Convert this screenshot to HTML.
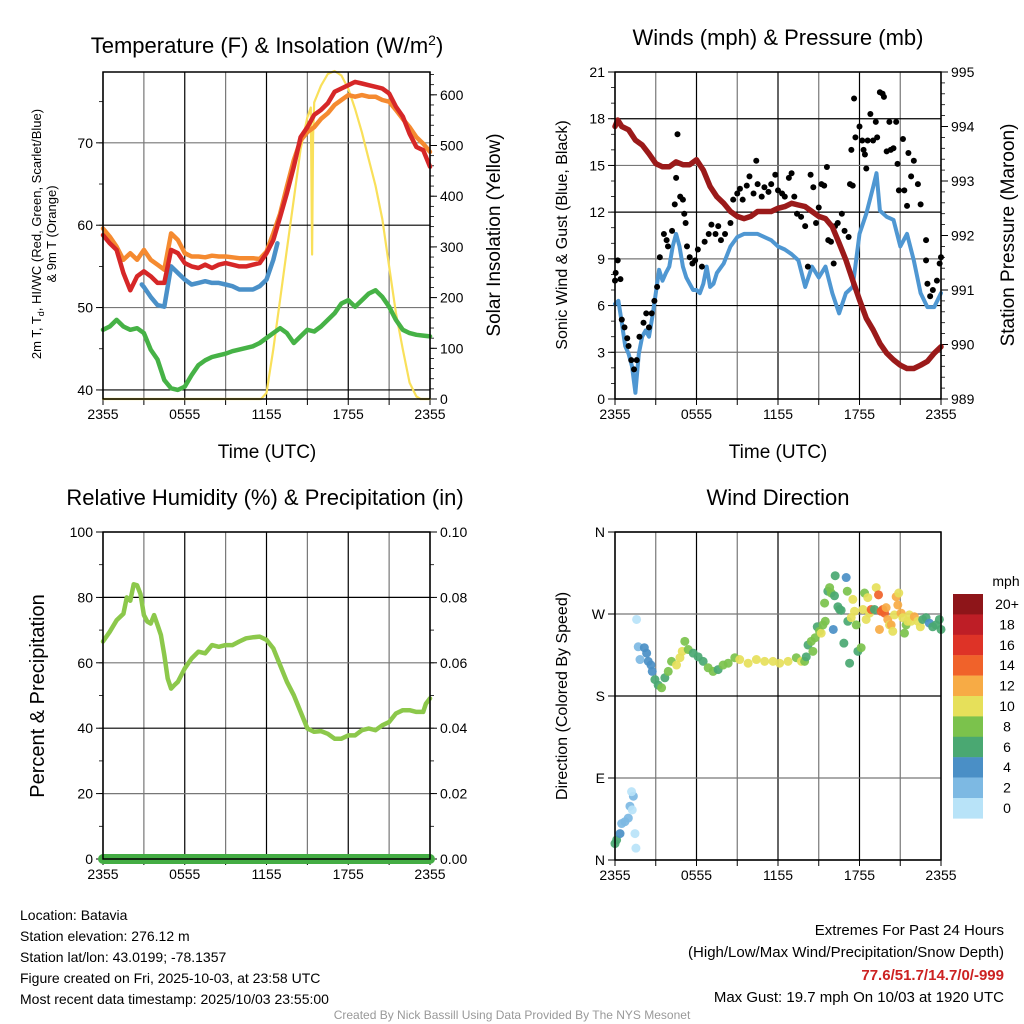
<!DOCTYPE html>
<html><head><meta charset="utf-8"><style>
html,body{margin:0;padding:0;background:#fff;}
svg{display:block;font-family:"Liberation Sans",Arial,sans-serif;}
</style></head><body>
<svg id="chart" width="1024" height="1024" viewBox="0 0 1024 1024" xmlns="http://www.w3.org/2000/svg">
<text x="267" y="53" font-size="22" text-anchor="middle">Temperature (F) &amp; Insolation (W/m<tspan dy="-8" font-size="14">2</tspan><tspan dy="8">)</tspan></text>
<text x="778" y="45" font-size="22" text-anchor="middle">Winds (mph) &amp; Pressure (mb)</text>
<text x="265" y="505" font-size="22" text-anchor="middle">Relative Humidity (%) &amp; Precipitation (in)</text>
<text x="778" y="505" font-size="22" text-anchor="middle">Wind Direction</text>

<text transform="translate(41,234) rotate(-90)" font-size="13" text-anchor="middle">2m T, T<tspan dy="3" font-size="9">d</tspan><tspan dy="-3">, HI/WC (Red, Green, Scarlet/Blue)</tspan></text>
<text transform="translate(56,234) rotate(-90)" font-size="13" text-anchor="middle">&amp; 9m T (Orange)</text>
<text transform="translate(500,235) rotate(-90)" font-size="19" text-anchor="middle">Solar Insolation (Yellow)</text>
<text transform="translate(567,235) rotate(-90)" font-size="16" text-anchor="middle">Sonic Wind &amp; Gust (Blue, Black)</text>
<text transform="translate(1014,235) rotate(-90)" font-size="19" text-anchor="middle">Station Pressure (Maroon)</text>
<text transform="translate(44,696) rotate(-90)" font-size="20" text-anchor="middle">Percent &amp; Precipitation</text>
<text transform="translate(567,696) rotate(-90)" font-size="16" text-anchor="middle">Direction (Colored By Speed)</text>
<text x="267" y="458" font-size="19" text-anchor="middle">Time (UTC)</text>
<text x="778" y="458" font-size="19" text-anchor="middle">Time (UTC)</text>

<g font-size="14">
<text x="20" y="920">Location: Batavia</text>
<text x="20" y="941">Station elevation: 276.12 m</text>
<text x="20" y="962">Station lat/lon: 43.0199; -78.1357</text>
<text x="20" y="983">Figure created on Fri, 2025-10-03, at 23:58 UTC</text>
<text x="20" y="1004">Most recent data timestamp: 2025/10/03 23:55:00</text>
</g>
<g font-size="15" text-anchor="end">
<text x="1004" y="935">Extremes For Past 24 Hours</text>
<text x="1004" y="957">(High/Low/Max Wind/Precipitation/Snow Depth)</text>
<text x="1004" y="980" fill="#cc2222" font-weight="bold">77.6/51.7/14.7/0/-999</text>
<text x="1004" y="1002">Max Gust: 19.7 mph On 10/03 at 1920 UTC</text>
</g>
<text x="512" y="1019" font-size="12" fill="#999" text-anchor="middle">Created By Nick Bassill Using Data Provided By The NYS Mesonet</text>
</svg>
<script>
// ---------- DATA ----------
const xTickLabels = ["2355","0555","1155","1755","2355"];
const tempTimes = [0,0.5,1,1.5,2,2.5,3,3.5,4,4.5,5,5.5,6,6.5,7,7.5,8,8.5,9,9.5,10,10.5,11,11.5,12,12.5,13,13.5,14,14.5,15,15.5,16,16.5,17,17.5,18,18.5,19,19.5,20,20.5,21,21.5,22,22.5,23,23.5,24];
const temp2m = [58.8,57.8,57,54.2,52.1,53.8,54.4,53.8,53,53,57,56.6,55.4,55,54.8,55.2,54.8,55.2,55.4,55.2,55,55,55.2,55.4,56.6,58.2,61,63.9,67.1,70.7,71.9,73.4,74,74.8,76.2,76.6,77,77.4,77.2,77,76.8,76.6,76,74.4,73.2,71.1,69.5,69.1,67.1];
const temp9m = [59.6,58.6,57.4,55.8,56.6,55.8,57,55.8,55.2,54.6,59,58.2,56.6,56.2,56.2,56.1,56.3,56.2,56.2,56.1,56,56,56,55.9,56.8,59,61.4,64.7,67.9,70.3,71.3,71.9,72.9,73.6,74.6,75.2,75.8,75.6,75.8,75.6,75.6,75.2,75,74,72.9,71.9,70.7,69.9,68.9];
const dewpoint = [47.3,47.7,48.5,47.7,47.3,47.5,46.9,44.9,43.7,41.2,40.2,40,40.4,41.8,43,43.6,44,44.2,44.4,44.7,44.9,45.1,45.3,45.7,46.3,46.9,47.5,46.9,45.7,46.5,47.3,47.1,47.7,48.5,49.3,50.5,50.9,50.1,50.9,51.7,52.1,51.3,50.1,48.5,47.3,46.9,46.7,46.6,46.5];
const hiwcTimes = [2.85,3,3.5,4,4.5,5,5.5,6,6.5,7,7.5,8,8.5,9,9.5,10,10.5,11,11.5,12,12.5,12.8];
const hiwc = [52.8,52.5,51.3,50.3,50.1,55,54.2,53.4,52.8,53,53.2,53,53,52.8,52.6,52.2,52.2,52.2,52.6,53.4,55.8,57.8];
const solarTimes = [0,11.6,12,12.5,13,13.5,14,14.5,15,15.25,15.35,15.42,15.5,16,16.5,17,17.5,18,18.5,19,19.5,20,20.5,21,21.5,22,22.5,23,23.3,24];
const solar = [0,0,12,98,196,295,394,493,556,575,285,520,585,618,641,647,638,612,572,526,473,421,355,262,170,98,32,5,0,0];

const windTimes = [0,0.25,0.5,0.75,1,1.25,1.5,1.75,2,2.25,2.5,2.75,3,3.25,3.5,3.75,4,4.25,4.5,4.75,5,5.25,5.5,5.75,6,6.25,6.5,6.75,7,7.25,7.5,8,8.5,9,9.5,10,10.5,11,11.5,12,12.5,13,13.5,14,14.5,15,15.5,16,16.5,17,17.5,18,18.5,19,19.25,19.5,20,20.5,21,21.5,22,22.5,23,23.5,24];
const windSpeed = [6.1,6.3,4.9,3.4,2.9,2.1,0.4,2.9,4.0,4.4,4.0,5.3,6.8,8.3,7.6,8.1,8.5,9.8,10.6,9.8,8.5,7.8,7.4,7.0,7.0,6.8,7.4,8.5,7.2,7.4,8.1,8.7,9.8,10.4,10.6,10.6,10.6,10.4,10.2,9.8,9.6,9.3,8.9,7.2,8.5,7.8,8.5,6.8,5.5,6.8,7.2,10.6,11.9,13.6,14.5,12.1,11.7,11.5,9.8,10.6,8.9,6.8,5.9,5.9,6.8];
const gustTimes = [0,0.05,0.2,0.4,0.5,0.7,0.9,1.0,1.2,1.4,1.6,1.8,2.1,2.3,2.5,2.7,2.9,3.1,3.3,3.6,3.8,3.9,4.2,4.4,4.5,4.6,4.8,5.0,5.1,5.2,5.3,5.5,5.7,5.9,6.1,6.4,6.6,6.9,7.1,7.4,7.6,7.8,8.1,8.5,8.7,9.0,9.2,9.4,9.7,9.9,10.2,10.4,10.5,10.8,11.0,11.3,11.5,11.8,12.0,12.3,12.5,12.8,13.0,13.2,13.4,13.7,14.0,14.2,14.4,14.6,14.8,15.0,15.2,15.4,15.6,15.7,15.9,16.1,16.2,16.4,16.7,16.9,17.2,17.3,17.5,17.4,17.6,17.7,18.0,18.2,18.3,18.4,18.5,18.6,18.8,19.0,19.2,19.3,19.5,19.7,19.8,20.0,20.2,20.3,20.5,20.7,20.8,20.9,21.2,21.3,21.5,21.6,21.8,22.0,22.3,22.5,22.9,22.9,23.0,23.2,23.4,23.7,23.9,24.0];
const gustSpeed = [7.6,8.1,8.9,7.7,5.1,4.6,3.9,3.4,2.5,1.9,2.5,4.0,4.9,5.5,4.6,5.5,6.3,7.2,9.1,10.6,10.2,9.8,10.8,12.5,14.2,17.0,13.0,12.8,11.9,11.3,9.8,9.1,8.7,8.9,9.6,8.5,10.1,10.6,11.2,10.6,11.1,10.2,10.6,11.3,12.8,13.2,13.5,12.8,13.7,14.3,13.2,15.3,13.8,13.0,13.6,13.3,13.8,14.4,13.4,13.2,13.0,14.2,14.5,13.0,11.9,11.7,11.1,8.5,14.4,13.6,11.3,12.3,13.8,13.7,14.9,10.2,10.1,8.7,11.1,11.3,11.9,10.8,10.4,13.8,13.7,16.0,19.3,16.8,17.5,16.6,16.0,15.7,14.8,16.6,18.3,16.6,17.8,16.8,19.7,19.6,19.4,15.9,17.8,16.0,16.1,17.8,15.1,13.4,16.7,13.4,12.4,15.8,14.3,15.3,13.8,12.5,10.2,8.9,7.4,6.6,7.0,7.6,8.7,9.1];
const pressTimes = [0,0.2,0.5,1,1.5,2,2.5,3,3.5,4,4.5,5,5.5,6,6.5,7,7.5,8,8.5,9,9.5,10,10.5,11,11.5,12,12.5,13,13.5,14,14.5,15,15.5,16,16.5,17,17.5,18,18.5,19,19.5,20,20.5,21,21.5,22,22.5,23,23.5,24];
const pressure = [994.0,994.12,994.0,993.94,993.75,993.66,993.5,993.32,993.26,993.26,993.35,993.3,993.3,993.39,993.2,992.9,992.71,992.59,992.44,992.35,992.31,992.35,992.44,992.44,992.44,992.5,992.53,992.59,992.56,992.53,992.44,992.35,992.31,992.16,991.86,991.55,991.18,990.82,990.48,990.27,990.02,989.84,989.72,989.62,989.56,989.56,989.62,989.69,989.84,989.96];

const rhTimes = [0,0.5,1,1.5,1.75,2,2.25,2.5,2.75,3,3.25,3.5,3.75,4,4.25,4.5,4.75,5,5.25,5.5,6,6.5,7,7.5,8,8.5,9,9.5,10,10.5,11,11.5,12,12.5,13,13.5,14,14.5,15,15.5,16,16.5,17,17.5,18,18.5,19,19.5,20,20.5,21,21.5,22,22.5,23,23.5,23.7,24];
const rh = [66.5,69.5,73,75,80,79,84,83.7,81,74.6,72.6,72,74.6,71.6,68.5,62.4,55.2,52.1,53.2,54.2,58.3,61.3,63.4,62.9,65.4,64.9,65.4,65.4,66.5,67.5,67.8,68,67,64.4,59.3,54.2,50.1,45,39.9,38.9,39.1,38.3,36.8,36.8,37.8,37.8,39.4,39.9,39.4,40.9,41.9,44.5,45.5,45.5,45,45,47.5,49.1];
const precipTimes = [0,24];
const precip = [0,0];

const dirTimes = [0,0.12,0.37,0.49,0.73,0.98,1.10,1.27,1.35,1.22,1.47,1.54,1.59,1.71,1.84,2.16,2.33,2.45,2.65,2.74,2.94,3.18,3.43,3.67,3.92,4.16,4.53,4.78,4.95,5.14,5.39,5.76,6.12,6.49,6.86,7.22,7.59,7.96,8.33,8.82,9.18,9.80,10.41,11.02,11.63,12.12,12.74,13.35,13.72,13.96,14.08,14.21,14.45,14.57,14.74,14.89,15.06,15.18,15.31,15.43,15.48,15.67,15.80,15.92,16.16,16.21,16.41,16.53,16.65,16.07,16.85,17.02,17.10,17.14,17.27,17.39,17.51,17.63,17.76,17.88,18.12,18.25,18.37,18.49,18.61,18.74,18.86,19.10,19.23,19.40,19.47,19.59,19.72,19.84,19.96,20.08,20.21,20.33,20.45,20.57,20.70,20.82,20.89,21.06,21.19,21.31,21.43,21.55,21.67,21.80,22.04,22.29,22.48,22.65,22.90,23.14,23.39,23.63,23.88,24.0];
const dirDeg = [18,22,29,40,42,46,59,55,70,75,29,13,264,234,220,233,227,218,214,207,198,192,189,200,207,218,214,222,229,240,231,227,223,218,211,207,209,214,216,222,220,216,220,218,218,216,218,222,218,218,223,236,240,229,244,256,251,249,258,282,262,295,299,293,290,312,278,275,274,253,238,310,295,262,216,266,286,273,258,229,233,275,293,264,288,271,275,275,299,291,253,273,275,271,277,264,258,258,251,269,289,280,293,271,266,249,258,262,269,262,267,262,256,264,266,260,256,258,264,253];
const dirSpeed = [7,7,5,3,3,3,3,1,3,1,1,1,1,3,3,5,5,5,5,5,7,7,9,7,9,9,11,11,11,9,9,7,7,7,9,9,7,9,9,9,11,11,11,11,11,11,11,9,11,9,7,7,9,9,9,7,9,11,9,9,9,7,9,9,7,7,7,7,7,5,7,5,9,7,7,11,11,11,9,7,9,11,9,11,11,11,15,7,11,15,13,15,15,15,13,13,11,13,11,11,13,13,11,13,11,9,9,11,11,11,13,11,11,7,7,5,7,7,7,7];
const speedLabels = ["20+","18","16","14","12","10","8","6","4","2","0"];
const speedColors = ["#b8e3f8","#7db9e3","#4a8fc6","#4aa872","#7bc24c","#e6e05a","#f7ab45","#f0622a","#de3327","#be1e26","#8e1519"];

// ---------- HELPERS ----------
const svg = document.getElementById('chart');
const NS = 'http://www.w3.org/2000/svg';
function mk(tag, attrs, parent){
  const e = document.createElementNS(NS, tag);
  for (const k in attrs) e.setAttribute(k, attrs[k]);
  (parent||svg).appendChild(e);
  return e;
}
function lin(d0,d1,r0,r1){ return v => r0 + (v-d0)/(d1-d0)*(r1-r0); }

function panel(x0,x1,y0,y1){
  return {x0,x1,y0,y1,x: lin(0,24,x0,x1)};
}
function drawFrame(p, name){
  const g = mk('g',{});
  
  
  for (let h=0; h<=24; h+=3){
    const X = p.x(h);
    const l = mk('line',{x1:X,x2:X,y1:p.y0,y2:p.y1,stroke:(h%6===0)?'#000':'#777','stroke-width':1.2},g);
    
    
    const t = mk('line',{x1:X,x2:X,y1:p.y1,y2:p.y1+6,stroke:'#000','stroke-width':1},g);
    
    
  }
  xTickLabels.forEach((s,i)=>{
    const tx = mk('text',{x:p.x(i*6),y:p.y1+20,'font-size':14,'text-anchor':'middle'},g);
    tx.textContent = s;
    
    
  });
  return g;
}
function yAxis(p, name, side, d0, d1, majors, minorStep, fmt, gridOn){
  const y = lin(d0,d1,p.y1,p.y0);
  const g = mk('g',{});
  
  
  const ax = side==='left'?p.x0:p.x1, dir = side==='left'?-1:1;
  if (minorStep){
    for (let v=Math.ceil(d0/minorStep)*minorStep; v<=d1+1e-9; v+=minorStep){
      const Y=y(v);
      const m = mk('line',{x1:ax,x2:ax+dir*4,y1:Y,y2:Y,stroke:'#000','stroke-width':0.8},g);
      
      
    }
  }
  majors.forEach((v,i)=>{
    const Y=y(v);
    if (gridOn){
      const gl = mk('line',{x1:p.x0,x2:p.x1,y1:Y,y2:Y,stroke:(i%2?'#777':'#000'),'stroke-width':1.2},g);
      
      
    }
    const t = mk('line',{x1:ax,x2:ax+dir*7,y1:Y,y2:Y,stroke:'#000','stroke-width':1},g);
    
    
    const tx = mk('text',{x:ax+dir*10,y:Y+5,'font-size':14,'text-anchor':side==='left'?'end':'start'},g);
    tx.textContent = fmt(v);
    
    
  });
  return y;
}
function border(p,name){
  const r = mk('rect',{x:p.x0,y:p.y0,width:p.x1-p.x0,height:p.y1-p.y0,fill:'none',stroke:'#000','stroke-width':1.5});
  
  
}
function line(p, ts, vs, y, color, w, name){
  const d = ts.map((t,i)=>(i?'L':'M')+p.x(t).toFixed(1)+','+y(vs[i]).toFixed(1)).join('');
  const e = mk('path',{d,fill:'none',stroke:color,'stroke-width':w,'stroke-linejoin':'round','stroke-linecap':'round'});
  
  
  return e;
}

// ---------- PANEL 1 ----------
const p1 = panel(103,430,72,399);
drawFrame(p1,'temperature');
const yT = yAxis(p1,'temperature-y-axis','left',38.9,78.6,[40,50,60,70],5,v=>v,true);
const yS = yAxis(p1,'insolation-y-axis','right',0,645,[0,100,200,300,400,500,600],20,v=>v,false);
line(p1,solarTimes,solar,yS,'#f9e05a',2.2,'solar-insolation-line');
line(p1,tempTimes,dewpoint,yT,'#46b246',4.5,'dewpoint-line');
line(p1,tempTimes,temp9m,yT,'#f58a30',4.5,'temp-9m-line');
line(p1,hiwcTimes,hiwc,yT,'#4a90c8',4.5,'heat-index-wind-chill-line');
line(p1,tempTimes,temp2m,yT,'#d62728',4.5,'temp-2m-line');
border(p1,'temperature');

// ---------- PANEL 2 ----------
const p2 = panel(615,941,72,399);
drawFrame(p2,'winds');
const yW = yAxis(p2,'wind-y-axis','left',0,21,[0,3,6,9,12,15,18,21],1,v=>v,true);
const yP = yAxis(p2,'pressure-y-axis','right',989,995,[989,990,991,992,993,994,995],0.2,v=>v,false);
line(p2,windTimes,windSpeed,yW,'#4f97d2',4,'sonic-wind-line');
gustTimes.forEach((t,i)=>{
  const c = mk('circle',{cx:p2.x(t),cy:yW(gustSpeed[i]),r:3,fill:'#000'});
  
  
});
line(p2,pressTimes,pressure,yP,'#9b1a1a',5.5,'pressure-line');
border(p2,'winds');

// ---------- PANEL 3 ----------
const p3 = panel(103,430,532,859);
drawFrame(p3,'humidity');
const yR = yAxis(p3,'humidity-y-axis','left',0,100,[0,20,40,60,80,100],10,v=>v,true);
yAxis(p3,'precip-y-axis','right',0,0.1,[0,0.02,0.04,0.06,0.08,0.10],0.01,v=>v.toFixed(2),false);
line(p3,rhTimes,rh,yR,'#8cc84b',4.5,'relative-humidity-line');
const yPr = lin(0,0.1,p3.y1,p3.y0);
line(p3,precipTimes,precip,yPr,'#44ad44',10,'precipitation-line');
border(p3,'humidity');

// ---------- PANEL 4 ----------
const p4 = panel(615,941,532,860);
drawFrame(p4,'direction');
const yD = yAxis(p4,'direction-y-axis','left',0,360,[0,90,180,270,360],0,v=>['N','E','S','W','N'][v/90],true);
dirTimes.forEach((t,i)=>{
  const idx = Math.min(10, Math.floor(dirSpeed[i]/2));
  const c = mk('circle',{cx:p4.x(t),cy:yD(dirDeg[i]),r:4.5,fill:speedColors[idx],'fill-opacity':0.92});
  
  
});
border(p4,'direction');

// colorbar
const cb = mk('g',{});


const cbTitle = mk('text',{x:1006,y:586,'font-size':14,'text-anchor':'middle'},cb);
cbTitle.textContent = 'mph';


speedLabels.forEach((s,i)=>{
  const yy = 594 + i*20.4;
  const r = mk('rect',{x:953,y:yy,width:30,height:20.6,fill:speedColors[10-i]},cb);
  
  
  const tx = mk('text',{x:1007,y:yy+15,'font-size':14,'text-anchor':'middle'},cb);
  tx.textContent = s;
  
  
});
</script>
</body></html>
